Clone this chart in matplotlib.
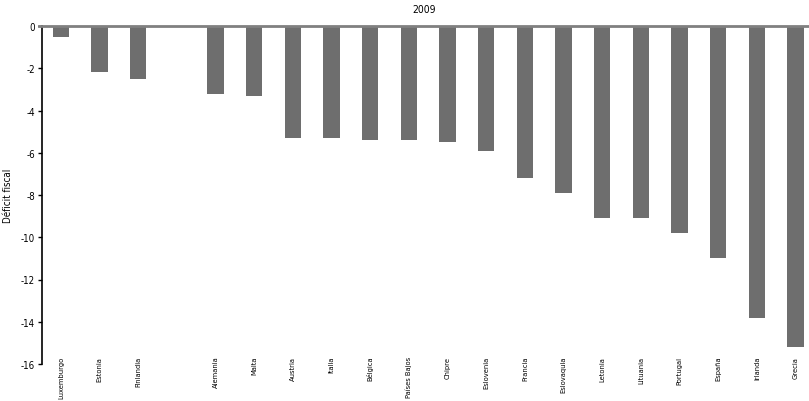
import numpy as np
import matplotlib
matplotlib.use('Agg')
import matplotlib.pyplot as plt

plt.rcParams['font.family'] = ['DejaVu Sans']

# 2009 fiscal deficit (% GDP); '' is the blank slot
paises = ['Luxemburgo', 'Estonia', 'Finlandia', '', 'Alemania', 'Malta',
          'Austria', 'Italia', 'Bélgica', 'Países Bajos', 'Chipre',
          'Eslovenia', 'Francia', 'Eslovaquia', 'Letonia', 'Lituania',
          'Portugal', 'España', 'Irlanda', 'Grecia']
deficit = [-0.5, -2.2, -2.5, np.nan, -3.2, -3.3,
           -5.3, -5.3, -5.4, -5.4, -5.5,
           -5.9, -7.2, -7.9, -9.1, -9.1,
           -9.8, -11.0, -13.8, -15.2]
yticks = [0, -2, -4, -6, -8, -10, -12, -14, -16]

W, H = 809, 402
fig = plt.figure(figsize=(W / 100, H / 100), dpi=100)
ax = fig.add_axes([42 / W, 1 - 365 / H, (806 - 42) / W, (365 - 27) / H])

x = np.arange(len(paises))
ax.bar(x, deficit, width=0.42, color='#6e6e6e', zorder=2)
ax.axhline(0, color='#808080', lw=2, zorder=3, clip_on=False,
           xmin=-3 / 764, xmax=1.003)

ax.set_xlim(-0.49, len(paises) - 1 + 0.27)
ax.set_ylim(-16, 0)
ax.set_yticks(yticks)
ax.set_yticklabels([str(v) for v in yticks], fontsize=7, fontstretch='condensed')
ax.set_xticks(x)
ax.set_xticklabels(paises, rotation=90, fontsize=5.4, va='top', ha='center',
                   fontstretch='condensed')
ax.tick_params(axis='x', length=0, pad=-6)
ax.tick_params(axis='y', length=3, width=1, pad=2, direction='out')

for s in ['top', 'right', 'bottom']:
    ax.spines[s].set_visible(False)
ax.spines['left'].set_color('black')
ax.spines['left'].set_linewidth(1.2)

ax.set_ylabel('Déficit fiscal', fontsize=7, fontstretch='condensed')
ax.yaxis.set_label_coords(-29 / 764, 0.5)
ax.set_title('2009', fontsize=7.5, pad=10, fontstretch='condensed')

fig.savefig('out.png', dpi=100)
